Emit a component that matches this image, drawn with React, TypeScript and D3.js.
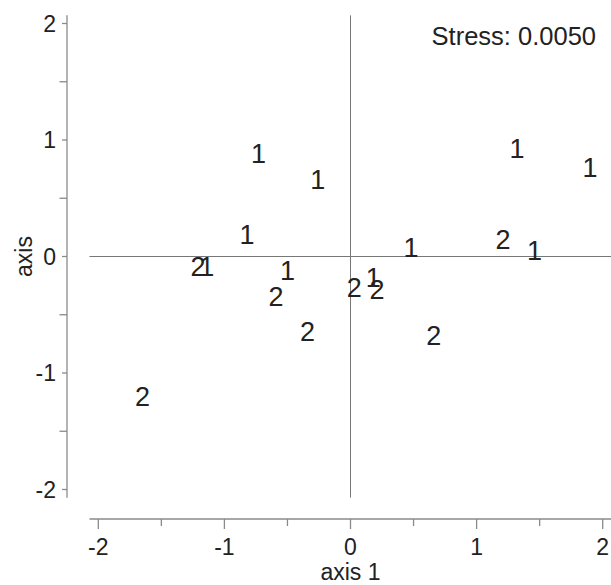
import React, { useEffect, useRef } from 'react';
import * as d3 from 'd3';

// group labels and MDS coordinates
const groups = ['1', '1', '1', '1', '1', '2', '1', '1', '2', '1', '1', '2', '2', '2', '1', '2', '2', '2'];
const axis1 = [-0.73, -0.26, 1.32, 1.9, -0.82, 1.21, 0.48, 1.46, -1.21, -1.14, -0.5, -0.59, -0.34, 0.03, 0.18, 0.21, 0.66, -1.65];
const axis2 = [0.89, 0.66, 0.93, 0.77, 0.195, 0.15, 0.075, 0.05, -0.08, -0.08, -0.115, -0.34, -0.64, -0.26, -0.18, -0.28, -0.68, -1.2];

const majorTicks = [-2, -1, 0, 1, 2];
const minorTicks = [-1.5, -0.5, 0.5, 1.5];
const stressLabel = 'Stress: 0.0050';

const W = 611;
const H = 585;
const FONT = '"Liberation Sans", Arial, Helvetica, sans-serif';

const MdsPlot = () => {
  const svgRef = useRef<SVGSVGElement>(null);

  useEffect(() => {
    if (!svgRef.current) return;
    const svg = d3.select(svgRef.current);
    svg.selectAll('*').remove();

    const x = d3.scaleLinear().domain([-2, 2]).range([98.3, 602.7]);
    const y = d3.scaleLinear().domain([-2, 2]).range([489.5, 23.5]);
    const ext = 2.07;

    const axisColor = '#8a8a8a';
    const textColor = '#222';
    const yAxisX = 67;
    const xAxisY = 519;
    const tickFont = 23;

    // left axis
    svg.append('line')
      .attr('x1', yAxisX).attr('x2', yAxisX)
      .attr('y1', y(ext)).attr('y2', y(-ext))
      .attr('stroke', axisColor).attr('stroke-width', 1.3);
    svg.selectAll('.ymaj').data(majorTicks).enter().append('line')
      .attr('x1', yAxisX - 5).attr('x2', yAxisX)
      .attr('y1', d => y(d)).attr('y2', d => y(d))
      .attr('stroke', axisColor).attr('stroke-width', 1.3);
    svg.selectAll('.ymin').data(minorTicks).enter().append('line')
      .attr('x1', yAxisX - 7.5).attr('x2', yAxisX)
      .attr('y1', d => y(d)).attr('y2', d => y(d))
      .attr('stroke', axisColor).attr('stroke-width', 1.3);
    svg.selectAll('.ylab').data(majorTicks).enter().append('text')
      .attr('x', 56).attr('y', d => y(d)).attr('dy', '0.35em')
      .attr('text-anchor', 'end')
      .attr('font-family', FONT).attr('font-size', tickFont).attr('fill', textColor)
      .text(d => String(d));

    // bottom axis
    svg.append('line')
      .attr('x1', x(-ext)).attr('x2', x(ext))
      .attr('y1', xAxisY).attr('y2', xAxisY)
      .attr('stroke', axisColor).attr('stroke-width', 1.3);
    svg.selectAll('.xmaj').data(majorTicks).enter().append('line')
      .attr('x1', d => x(d)).attr('x2', d => x(d))
      .attr('y1', xAxisY).attr('y2', xAxisY + 10)
      .attr('stroke', axisColor).attr('stroke-width', 1.3);
    svg.selectAll('.xmin').data(minorTicks).enter().append('line')
      .attr('x1', d => x(d)).attr('x2', d => x(d))
      .attr('y1', xAxisY).attr('y2', xAxisY + 7)
      .attr('stroke', axisColor).attr('stroke-width', 1.3);
    svg.selectAll('.xlab').data(majorTicks).enter().append('text')
      .attr('x', d => x(d)).attr('y', 555)
      .attr('text-anchor', 'middle')
      .attr('font-family', FONT).attr('font-size', tickFont).attr('fill', textColor)
      .text(d => String(d));

    // axis titles
    svg.append('text')
      .attr('x', x(0)).attr('y', 580)
      .attr('text-anchor', 'middle')
      .attr('font-family', FONT).attr('font-size', tickFont).attr('fill', textColor)
      .text('axis 1');
    svg.append('text')
      .attr('transform', `translate(32,${y(0)}) rotate(-90)`)
      .attr('text-anchor', 'middle')
      .attr('font-family', FONT).attr('font-size', tickFont).attr('fill', textColor)
      .text('axis');

    // zero cross lines
    svg.append('line')
      .attr('x1', x(0)).attr('x2', x(0))
      .attr('y1', y(ext)).attr('y2', y(-ext))
      .attr('stroke', '#777').attr('stroke-width', 1);
    svg.append('line')
      .attr('x1', x(-ext)).attr('x2', x(ext))
      .attr('y1', y(0)).attr('y2', y(0))
      .attr('stroke', '#777').attr('stroke-width', 1);

    // points drawn as group labels
    const pts = groups.map((g, i) => ({ g, a: axis1[i], b: axis2[i] }));
    svg.selectAll('.pt').data(pts).enter().append('text')
      .attr('x', d => x(d.a)).attr('y', d => y(d.b)).attr('dy', '0.36em')
      .attr('text-anchor', 'middle')
      .attr('font-family', FONT).attr('font-size', 27).attr('fill', textColor)
      .text(d => d.g);

    svg.append('text')
      .attr('x', 596).attr('y', 45)
      .attr('text-anchor', 'end')
      .attr('font-family', FONT).attr('font-size', 25.5).attr('fill', textColor)
      .text(stressLabel);
  }, []);

  return <svg ref={svgRef} width={W} height={H} style={{ display: 'block', background: '#fff' }} />;
};

const App = () => (
  <div style={{ position: 'fixed', left: 0, top: 0, width: W, height: H, background: '#fff' }}>
    <MdsPlot />
  </div>
);

export default App;
